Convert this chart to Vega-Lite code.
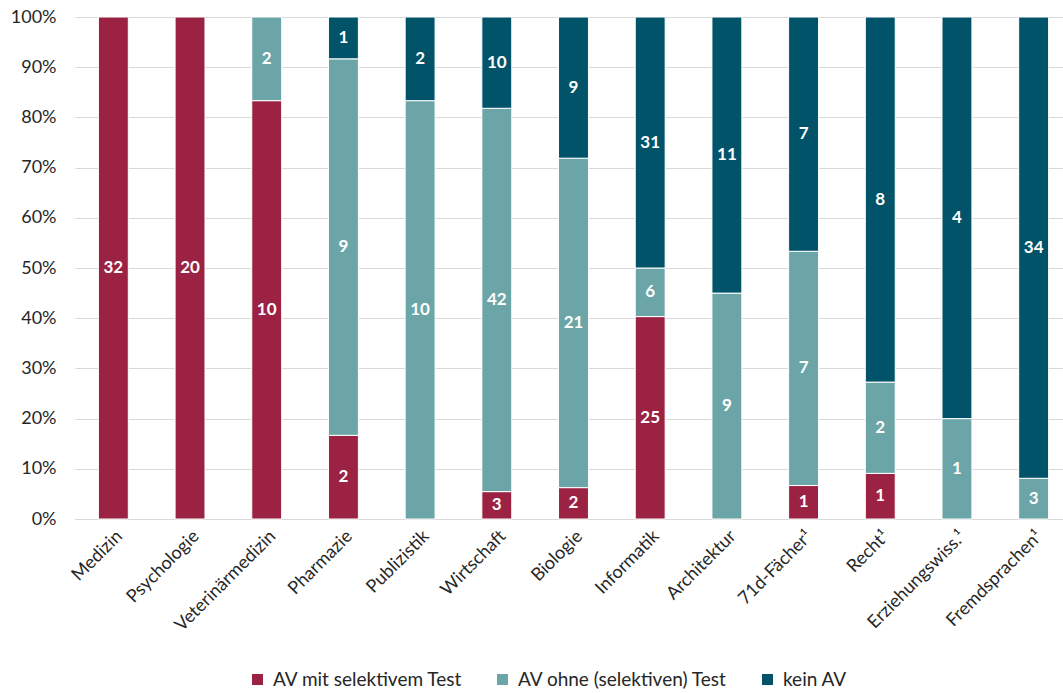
{
  "$schema": "https://vega.github.io/schema/vega-lite/v6.json",
  "autosize": "none",
  "width": 988,
  "height": 502,
  "padding": {"left": 75, "top": 17, "right": 0, "bottom": 174},
  "background": "white",
  "config": {
    "view": {"stroke": null},
    "font": "Lato",
    "axis": {"labelFont": "Lato", "labelFontSize": 18, "labelColor": "#262626"},
    "legend": {"labelFont": "Lato", "labelFontSize": 19, "labelColor": "#262626"}
  },
  "data": {
    "values": [
      {"Fach": "Medizin", "Gruppe": "AV mit selektivem Test", "ord": 1, "n": 32},
      {"Fach": "Psychologie", "Gruppe": "AV mit selektivem Test", "ord": 1, "n": 20},
      {"Fach": "Veterinärmedizin", "Gruppe": "AV mit selektivem Test", "ord": 1, "n": 10},
      {"Fach": "Veterinärmedizin", "Gruppe": "AV ohne (selektiven) Test", "ord": 2, "n": 2},
      {"Fach": "Pharmazie", "Gruppe": "AV mit selektivem Test", "ord": 1, "n": 2},
      {"Fach": "Pharmazie", "Gruppe": "AV ohne (selektiven) Test", "ord": 2, "n": 9},
      {"Fach": "Pharmazie", "Gruppe": "kein AV", "ord": 3, "n": 1},
      {"Fach": "Publizistik", "Gruppe": "AV ohne (selektiven) Test", "ord": 2, "n": 10},
      {"Fach": "Publizistik", "Gruppe": "kein AV", "ord": 3, "n": 2},
      {"Fach": "Wirtschaft", "Gruppe": "AV mit selektivem Test", "ord": 1, "n": 3},
      {"Fach": "Wirtschaft", "Gruppe": "AV ohne (selektiven) Test", "ord": 2, "n": 42},
      {"Fach": "Wirtschaft", "Gruppe": "kein AV", "ord": 3, "n": 10},
      {"Fach": "Biologie", "Gruppe": "AV mit selektivem Test", "ord": 1, "n": 2},
      {"Fach": "Biologie", "Gruppe": "AV ohne (selektiven) Test", "ord": 2, "n": 21},
      {"Fach": "Biologie", "Gruppe": "kein AV", "ord": 3, "n": 9},
      {"Fach": "Informatik", "Gruppe": "AV mit selektivem Test", "ord": 1, "n": 25},
      {"Fach": "Informatik", "Gruppe": "AV ohne (selektiven) Test", "ord": 2, "n": 6},
      {"Fach": "Informatik", "Gruppe": "kein AV", "ord": 3, "n": 31},
      {"Fach": "Architektur", "Gruppe": "AV ohne (selektiven) Test", "ord": 2, "n": 9},
      {"Fach": "Architektur", "Gruppe": "kein AV", "ord": 3, "n": 11},
      {"Fach": "71d-Fächer¹", "Gruppe": "AV mit selektivem Test", "ord": 1, "n": 1},
      {"Fach": "71d-Fächer¹", "Gruppe": "AV ohne (selektiven) Test", "ord": 2, "n": 7},
      {"Fach": "71d-Fächer¹", "Gruppe": "kein AV", "ord": 3, "n": 7},
      {"Fach": "Recht¹", "Gruppe": "AV mit selektivem Test", "ord": 1, "n": 1},
      {"Fach": "Recht¹", "Gruppe": "AV ohne (selektiven) Test", "ord": 2, "n": 2},
      {"Fach": "Recht¹", "Gruppe": "kein AV", "ord": 3, "n": 8},
      {"Fach": "Erziehungswiss.¹", "Gruppe": "AV ohne (selektiven) Test", "ord": 2, "n": 1},
      {"Fach": "Erziehungswiss.¹", "Gruppe": "kein AV", "ord": 3, "n": 4},
      {"Fach": "Fremdsprachen¹", "Gruppe": "AV ohne (selektiven) Test", "ord": 2, "n": 3},
      {"Fach": "Fremdsprachen¹", "Gruppe": "kein AV", "ord": 3, "n": 34}
    ]
  },
  "transform": [
    {"stack": "n", "groupby": ["Fach"], "offset": "normalize", "sort": [{"field": "ord", "order": "ascending"}], "as": ["y0", "y1"]}
  ],
  "encoding": {
    "x": {
      "field": "Fach", "type": "nominal",
      "sort": ["Medizin", "Psychologie", "Veterinärmedizin", "Pharmazie", "Publizistik", "Wirtschaft", "Biologie", "Informatik", "Architektur", "71d-Fächer¹", "Recht¹", "Erziehungswiss.¹", "Fremdsprachen¹"],
      "scale": {"range": [0, 997], "paddingInner": 0.61, "paddingOuter": 0.305},
      "axis": {"title": null, "labelAngle": -45, "ticks": false, "domainColor": "#D9D9D9", "labelPadding": 8}
    }
  },
  "layer": [
    {
      "mark": {"type": "bar", "stroke": "white", "strokeWidth": 1},
      "encoding": {
        "y": {
          "field": "y0", "type": "quantitative",
          "scale": {"domain": [0, 1]},
          "axis": {"title": null, "format": ".0%", "values": [0, 0.1, 0.2, 0.3, 0.4, 0.5, 0.6, 0.7, 0.8, 0.9, 1], "labelOverlap": false, "domain": false, "ticks": false, "gridColor": "#D9D9D9", "labelPadding": 19}
        },
        "y2": {"field": "y1"},
        "color": {
          "field": "Gruppe", "type": "nominal",
          "scale": {"domain": ["AV mit selektivem Test", "AV ohne (selektiven) Test", "kein AV"], "range": ["#9B2242", "#6BA5A7", "#005368"]},
          "legend": {"title": null, "orient": "none", "direction": "horizontal", "legendX": 173, "legendY": 653, "gridAlign": "none", "symbolType": "square", "symbolSize": 120, "symbolStrokeWidth": 0, "columnPadding": 30, "labelOffset": 6, "labelLimit": 0}
        }
      }
    },
    {
      "transform": [
        {"fold": ["y0", "y1"], "as": ["edge", "pos"]},
        {"aggregate": [{"op": "mean", "field": "pos", "as": "mid"}], "groupby": ["Fach", "Gruppe", "n"]}
      ],
      "mark": {"type": "text", "color": "white", "fontWeight": "bold", "fontSize": 17, "font": "Lato", "baseline": "middle"},
      "encoding": {
        "y": {"field": "mid", "type": "quantitative"},
        "text": {"field": "n", "type": "quantitative"}
      }
    }
  ]
}
